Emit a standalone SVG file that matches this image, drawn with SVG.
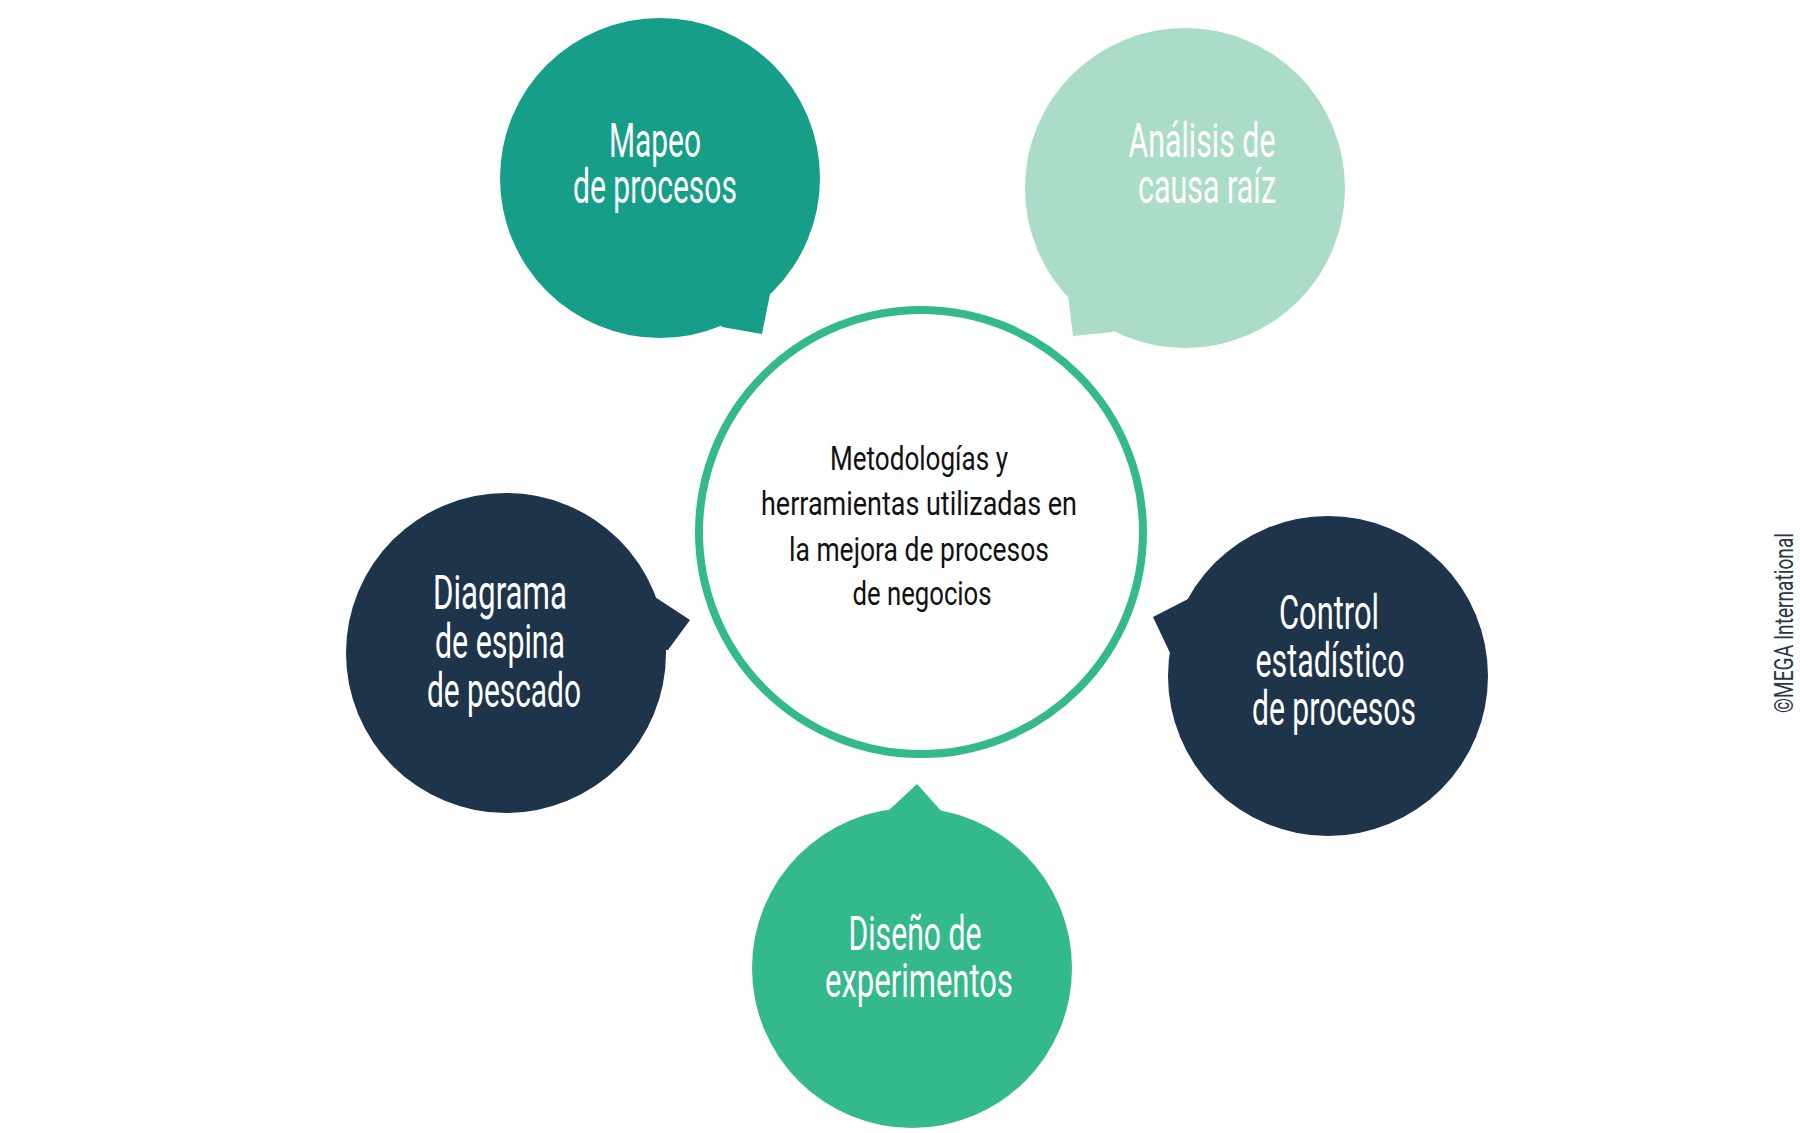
<svg xmlns="http://www.w3.org/2000/svg" width="1800" height="1133" viewBox="0 0 1800 1133">
<style>
.lbl{font-family:"Roboto","Liberation Sans",sans-serif;font-size:48px;fill:#ffffff;text-anchor:middle}
.ctr{font-family:"Roboto","Liberation Sans",sans-serif;font-size:34px;fill:#111111;text-anchor:middle}
.copy{font-family:"Roboto","Liberation Sans",sans-serif;font-size:25px;fill:#2a3644}
</style>
<rect width="1800" height="1133" fill="#ffffff"/>
<g id="connectors"></g>
<g id="center">
<circle cx="921" cy="532" r="222" fill="#ffffff" stroke="#33b98b" stroke-width="8"/>
<text class="ctr" x="919" y="470" textLength="178" lengthAdjust="spacingAndGlyphs">Metodologías y</text>
<text class="ctr" x="919" y="515" textLength="316" lengthAdjust="spacingAndGlyphs">herramientas utilizadas en</text>
<text class="ctr" x="919" y="561" textLength="260" lengthAdjust="spacingAndGlyphs">la mejora de procesos</text>
<text class="ctr" x="922" y="605" textLength="139" lengthAdjust="spacingAndGlyphs">de negocios</text>
</g>
<g id="mapeo">
<circle cx="660" cy="178" r="160" fill="#169e89"/>
<path d="M770 294 L762 334 L722 327 L660 178 Z" fill="#169e89"/>
<text class="lbl" x="655" y="157" textLength="92" lengthAdjust="spacingAndGlyphs">Mapeo</text>
<text class="lbl" x="655" y="203" textLength="164" lengthAdjust="spacingAndGlyphs">de procesos</text>
</g>
<g id="analisis">
<circle cx="1185" cy="188" r="160" fill="#abdcc7"/>
<path d="M1068 295 L1073 336 L1113 332 L1185 188 Z" fill="#abdcc7"/>
<text class="lbl" x="1202" y="157" textLength="147" lengthAdjust="spacingAndGlyphs">Análisis de</text>
<text class="lbl" x="1207" y="203" textLength="138" lengthAdjust="spacingAndGlyphs">causa raíz</text>
</g>
<g id="diagrama">
<circle cx="506" cy="653" r="160" fill="#1e344b"/>
<path d="M655 597 L690 620 L668 650 L506 653 Z" fill="#1e344b"/>
<text class="lbl" x="500" y="609" textLength="134" lengthAdjust="spacingAndGlyphs">Diagrama</text>
<text class="lbl" x="500" y="658" textLength="130" lengthAdjust="spacingAndGlyphs">de espina</text>
<text class="lbl" x="504" y="707" textLength="154" lengthAdjust="spacingAndGlyphs">de pescado</text>
</g>
<g id="control">
<circle cx="1328" cy="676" r="160" fill="#1e344b"/>
<path d="M1190 598 L1153 617 L1170 653 L1328 676 Z" fill="#1e344b"/>
<text class="lbl" x="1329" y="629" textLength="100" lengthAdjust="spacingAndGlyphs">Control</text>
<text class="lbl" x="1330" y="677" textLength="149" lengthAdjust="spacingAndGlyphs">estadístico</text>
<text class="lbl" x="1334" y="725" textLength="164" lengthAdjust="spacingAndGlyphs">de procesos</text>
</g>
<g id="diseno">
<circle cx="912" cy="968" r="160" fill="#33b98b"/>
<path d="M888 811 L917 784 L943 813 L912 968 Z" fill="#33b98b"/>
<text class="lbl" x="915" y="950" textLength="133" lengthAdjust="spacingAndGlyphs">Diseño de</text>
<text class="lbl" x="919" y="997" textLength="188" lengthAdjust="spacingAndGlyphs">experimentos</text>
</g>
<g id="copyright">
<text class="copy" transform="translate(1793 713) rotate(-90)" x="0" y="0" textLength="180" lengthAdjust="spacingAndGlyphs">©MEGA International</text>
</g>
</svg>
